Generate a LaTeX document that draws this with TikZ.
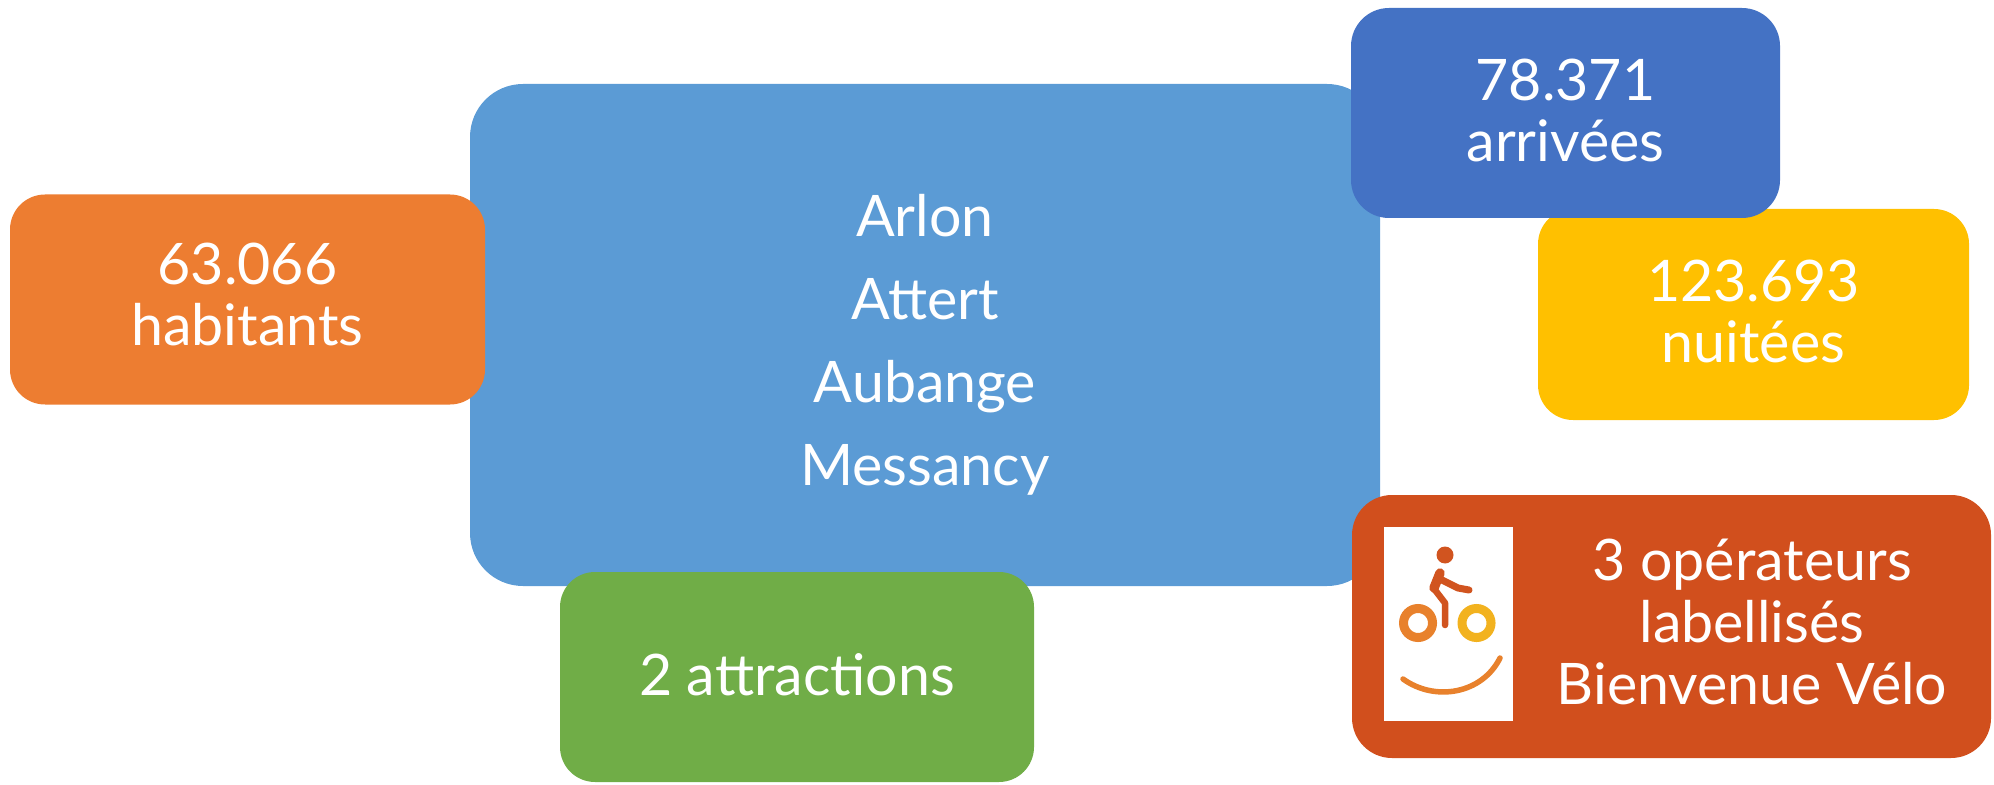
\documentclass[tikz,border=0pt]{standalone}
\usepackage{fontspec}
\setmainfont{Lato}
\usetikzlibrary{positioning}
\definecolor{centreblue}{HTML}{5B9BD5}
\definecolor{tileorange}{HTML}{ED7D31}
\definecolor{tiledarkblue}{HTML}{4472C4}
\definecolor{tileyellow}{HTML}{FFC000}
\definecolor{tilegreen}{HTML}{70AD47}
\definecolor{tilered}{HTML}{D14F1D}
\definecolor{bikered}{HTML}{D1541F}
\definecolor{bikeorange}{HTML}{E8812C}
\definecolor{bikeyellow}{HTML}{F2B21F}
\newcommand\tilefont{\fontsize{16.3}{17.6}\selectfont}
\newcommand\centrefont{\fontsize{16.3}{23.6}\selectfont}
\tikzstyle{tile} = [
	rectangle,
	rounded corners=3.5mm,
	inner sep=0pt,
	minimum width=47.5mm,
	minimum height=21mm
]
\tikzstyle{tiletext} = [
	inner sep=0pt,
	text=white,
	align=center,
	font=\tilefont
]
\tikzstyle{bikepart} = [bikered, line width=0.8mm, line cap=round, line join=round]

\begin{document}
\begin{tikzpicture}[x=0.1mm, y=-0.1mm]

		\useasboundingbox (0,0) rectangle (1994,785);

		\node (communes) [tile, fill=centreblue, rounded corners=5.3mm, minimum width=91mm, minimum height=50.2mm] at (925,335) {};
		\node (habitants) [tile, fill=tileorange] at (247.5,299.5) {};
		\node (attractions) [tile, fill=tilegreen, minimum width=47.4mm] at (797,677) {};
		\node (nuitees) [tile, fill=tileyellow, minimum width=43.1mm, minimum height=21.1mm] at (1753.5,314.5) {};
		\node (arrivees) [tile, fill=tiledarkblue, rounded corners=3.8mm, minimum width=42.9mm] at (1565.5,113) {};
		\node (operateurs) [tile, fill=tilered, rounded corners=4mm, minimum width=63.9mm, minimum height=26.3mm] at (1671.5,626.5) {};
		\node (logo) [rectangle, fill=white, inner sep=0pt, minimum width=12.9mm, minimum height=19.4mm] at (1448.5,624) {};

		\node (communestext) [tiletext, font=\centrefont] at (925,345) {Arlon\\Attert\\Aubange\\Messancy};
		\node (habitantstext) [tiletext] at (247.5,294.5) {63.066\\habitants};
		\node (attractionstext) [tiletext] at (797,674.5) {2 attractions};
		\node (nuiteestext) [tiletext] at (1753.5,311.5) {123.693\\nuitées};
		\node (arriveestext) [tiletext] at (1565.5,110.5) {78.371\\arrivées};
		\node (operateurstext) [tiletext] at (1752,622) {3 opérateurs\\labellisés\\Bienvenue Vélo};

		% pictogramme du cycliste
		\fill [bikered] (1445,555) circle (0.85mm);
		\draw [bikepart, line width=0.95mm] (1440,573) -- (1434,588);
		\draw [bikepart, line width=0.7mm] (1442,580) -- (1458,588) -- (1469,590);
		\draw [bikepart, line width=0.65mm] (1435,590) -- (1445,603) -- (1445,625);
		\draw [bikeorange, line width=0.9mm] (1418,623) circle (1.45mm);
		\draw [bikeyellow, line width=0.9mm] (1476.5,623) circle (1.45mm);
		\draw [bikeorange, line width=0.55mm, line cap=round] (1403,679) .. controls (1435,702) and (1482,694) .. (1500,658);

	\end{tikzpicture}
\end{document}
